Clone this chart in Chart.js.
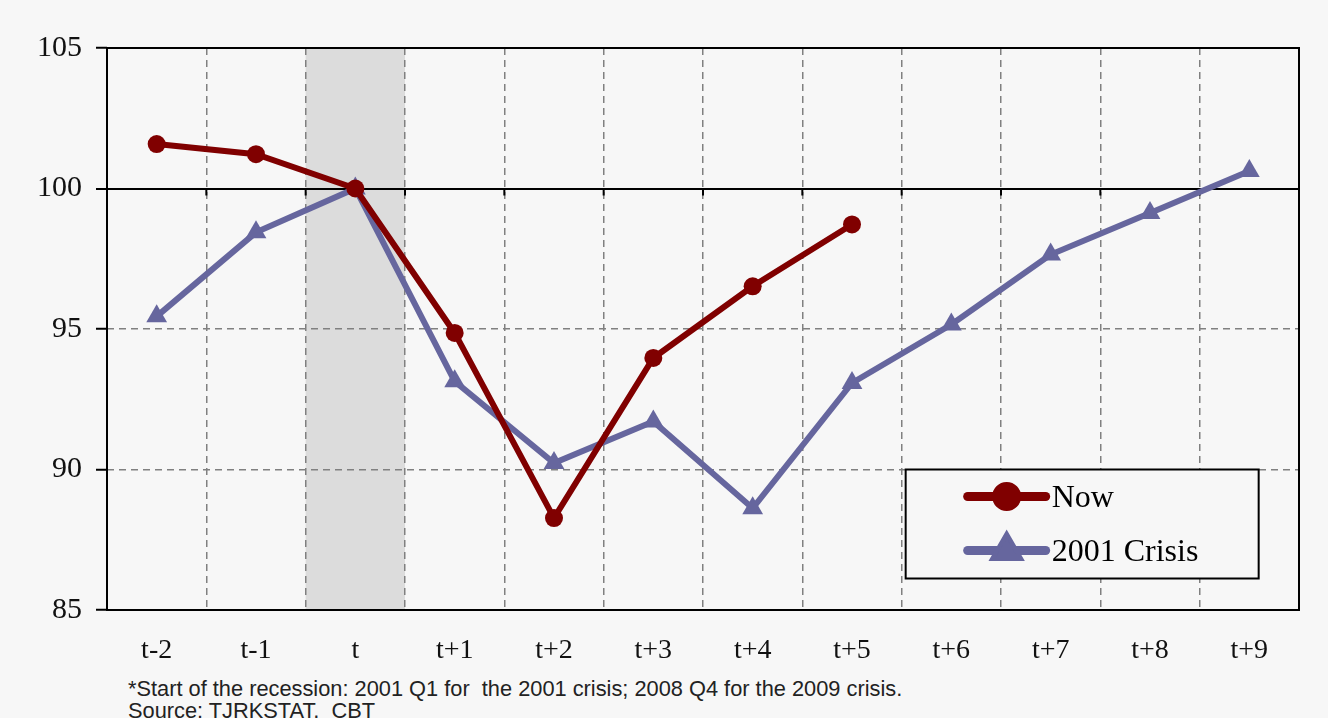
<!DOCTYPE html>
<html>
<head>
<meta charset="utf-8">
<script src="https://cdn.jsdelivr.net/npm/chart.js@4.4.0/dist/chart.umd.min.js"></script>
<style>
  html, body { margin: 0; padding: 0; background: #f7f7f7; }
  #wrap { position: relative; width: 1328px; height: 718px; overflow: hidden; }
  #chart { display: block; }
  .note {
    position: absolute; left: 128px;
    font-family: 'Liberation Sans', Arial, sans-serif; font-size: 21.8px;
    color: #222; white-space: pre; line-height: 22px;
  }
</style>
</head>
<body>
<div id="wrap">
  <canvas id="chart" width="1328" height="665"></canvas>
  <div class="note" style="top:678px">*Start of the recession: 2001 Q1 for  the 2001 crisis; 2008 Q4 for the 2009 crisis.</div>
  <div class="note" style="top:700px">Source: TJRKSTAT,  CBT</div>
</div>
<script>
const periods = ['t-2', 't-1', 't', 't+1', 't+2', 't+3', 't+4', 't+5', 't+6', 't+7', 't+8', 't+9'];
const nowValues = [101.58, 101.22, 100, 94.86, 88.27, 93.97, 96.52, 98.72, null, null, null, null];
const crisis2001Values = [95.45, 98.44, 100, 93.14, 90.23, 91.71, 88.62, 93.08, 95.16, 97.65, 99.13, 100.62];
const yTicks = [85, 90, 95, 100, 105];
const shadedPeriod = 't';

const RED = '#800000';
const BLUE = '#66669e';
const SERIF = "'Liberation Serif', 'Times New Roman', serif";

// shaded recession band + frame + axis ticks on the 100 line
const framePlugin = {
  id: 'frame',
  beforeDatasetsDraw(chart) {
    const { ctx, chartArea: a, scales: { x, y } } = chart;
    ctx.save();
    ctx.strokeStyle = '#000';
    ctx.lineWidth = 2;
    ctx.strokeRect(a.left, a.top, a.right - a.left, a.bottom - a.top);
    const y100 = y.getPixelForValue(100);
    ctx.beginPath();
    for (let i = 1; i < periods.length; i++) {
      const px = (x.getPixelForValue(i - 1) + x.getPixelForValue(i)) / 2;
      ctx.moveTo(px, y100);
      ctx.lineTo(px, y100 + 7);
    }
    ctx.stroke();
    ctx.restore();
  },
  beforeDraw(chart) {
    const { ctx, chartArea: a, scales: { x } } = chart;
    const i = periods.indexOf(shadedPeriod);
    const half = (x.getPixelForValue(1) - x.getPixelForValue(0)) / 2;
    ctx.save();
    ctx.fillStyle = '#dcdcdc';
    const cx = x.getPixelForValue(i);
    ctx.fillRect(cx - half, a.top, half * 2, a.bottom - a.top);
    ctx.restore();
  },
};

// legend box inside the plot
const legendPlugin = {
  id: 'boxLegend',
  afterDatasetsDraw(chart) {
    const { ctx, scales: { x, y } } = chart;
    const half = (x.getPixelForValue(1) - x.getPixelForValue(0)) / 2;
    const left = x.getPixelForValue(8) - half + 4;
    const top = y.getPixelForValue(90);
    const w = 353, h = 109;
    ctx.save();
    ctx.fillStyle = '#f7f7f7';
    ctx.fillRect(left, top, w, h);
    ctx.strokeStyle = '#000';
    ctx.lineWidth = 2;
    ctx.strokeRect(left, top, w, h);
    chart.data.datasets.forEach((ds, k) => {
      const cy = top + 27 + k * 54;
      ctx.strokeStyle = ds.borderColor;
      ctx.lineWidth = 9;
      ctx.lineCap = 'round';
      ctx.beginPath();
      ctx.moveTo(left + 62, cy);
      ctx.lineTo(left + 140, cy);
      ctx.stroke();
      Chart.helpers.drawPoint(ctx, {
        pointStyle: ds.pointStyle, radius: ds.pointStyle === 'circle' ? 10 : 12,
        borderWidth: 1, rotation: 0,
      }, left + 101, cy);
      ctx.fillStyle = ds.borderColor;
      ctx.fill();
      ctx.fillStyle = '#000';
      ctx.font = '32px ' + SERIF;
      ctx.textBaseline = 'middle';
      ctx.fillText(ds.label, left + 146, cy + 2);
    });
    ctx.restore();
  },
};

new Chart(document.getElementById('chart'), {
  type: 'line',
  data: {
    labels: periods,
    datasets: [
      {
        label: 'Now',
        data: nowValues,
        borderColor: RED,
        backgroundColor: RED,
        borderWidth: 6,
        pointStyle: 'circle',
        pointRadius: 9,
        pointBorderWidth: 0,
        tension: 0,
      },
      {
        label: '2001 Crisis',
        data: crisis2001Values,
        borderColor: BLUE,
        backgroundColor: BLUE,
        borderWidth: 6,
        pointStyle: 'triangle',
        pointRadius: 12,
        pointBorderWidth: 0,
        tension: 0,
      },
    ],
  },
  options: {
    responsive: false,
    animation: false,
    layout: { padding: { top: 48, right: 29, left: 0, bottom: 0 } },
    plugins: {
      legend: { display: false },
      tooltip: { enabled: false },
    },
    scales: {
      x: {
        offset: true,
        afterFit: (s) => { s.height = 55; },
        grid: {
          offset: true,
          drawTicks: false,
          color: '#808080',
          lineWidth: 1.5,
        },
        border: { display: false, dash: [7, 5] },
        ticks: {
          color: '#111',
          padding: 24,
          font: { family: SERIF, size: 28 },
        },
      },
      y: {
        min: 85,
        max: 105,
        afterFit: (s) => { s.width = 107; },
        afterBuildTicks: (s) => { s.ticks = yTicks.map((v) => ({ value: v })); },
        grid: {
          color: (c) => (c.tick && c.tick.value === 100 ? '#000' : '#808080'),
          lineWidth: (c) => (c.tick && c.tick.value === 100 ? 2 : 1.5),
          tickColor: '#000',
          tickLength: 11,
          tickWidth: 2,
        },
        border: {
          display: false,
          dash: (c) => (c.tick && c.tick.value === 100 ? [] : [7, 5]),
        },
        ticks: {
          color: '#111',
          padding: 14,
          font: { family: SERIF, size: 30 },
        },
      },
    },
  },
  plugins: [framePlugin, legendPlugin],
});
</script>
</body>
</html>
